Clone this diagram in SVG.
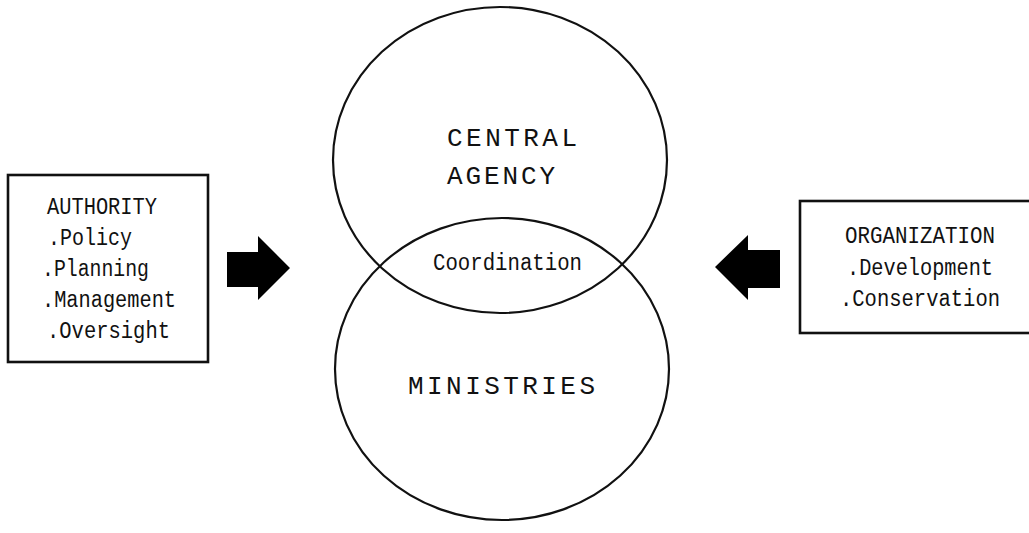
<svg xmlns="http://www.w3.org/2000/svg" width="1029" height="533" viewBox="0 0 1029 533">
  <style>
    .ring { fill: none; stroke: #111; stroke-width: 2.2; }
    .box { fill: #fff; stroke: #111; stroke-width: 2.6; }
    .big { font-family: "Liberation Mono", "DejaVu Sans Mono", monospace; font-size: 26px; fill: #111; }
    .small { font-family: "Liberation Mono", "DejaVu Sans Mono", monospace; font-size: 23px; fill: #111; }
    .arrow { fill: #000; }
  </style>
  <rect width="1029" height="533" fill="#fff"/>

  <!-- upper circle -->
  <g id="central-agency">
    <ellipse class="ring" cx="500" cy="160" rx="167" ry="153"/>
    <text class="big" x="447" y="146" textLength="130">CENTRAL</text>
    <text class="big" x="447" y="184" textLength="108">AGENCY</text>
  </g>

  <!-- lower circle -->
  <g id="ministries">
    <ellipse class="ring" cx="502" cy="369" rx="167" ry="151"/>
    <text class="big" x="408" y="394" textLength="187">MINISTRIES</text>
  </g>

  <!-- label in the overlap of the two circles -->
  <g id="coordination">
    <text class="small" x="433" y="270" textLength="149" lengthAdjust="spacingAndGlyphs">Coordination</text>
  </g>

  <g id="authority">
    <rect class="box" x="8" y="175" width="200" height="187"/>
    <text class="small" x="47" y="214" textLength="110" lengthAdjust="spacingAndGlyphs">AUTHORITY</text>
    <text class="small" x="48" y="245" textLength="84" lengthAdjust="spacingAndGlyphs">.Policy</text>
    <text class="small" x="42" y="276" textLength="107" lengthAdjust="spacingAndGlyphs">.Planning</text>
    <text class="small" x="42" y="307" textLength="134" lengthAdjust="spacingAndGlyphs">.Management</text>
    <text class="small" x="47" y="338" textLength="123" lengthAdjust="spacingAndGlyphs">.Oversight</text>
  </g>

  <g id="organization">
    <rect class="box" x="800" y="201" width="232" height="132"/>
    <text class="small" x="845" y="243" textLength="150" lengthAdjust="spacingAndGlyphs">ORGANIZATION</text>
    <text class="small" x="847" y="275" textLength="146" lengthAdjust="spacingAndGlyphs">.Development</text>
    <text class="small" x="840" y="306" textLength="160" lengthAdjust="spacingAndGlyphs">.Conservation</text>
  </g>

  <!-- block arrows pointing in toward the circles -->
  <g id="connectors">
    <polygon class="arrow" points="227,252 258,252 258,236 290,268 258,300 258,287 227,287"/>
    <polygon class="arrow" points="780,250 748,250 748,235 715,267 748,300 748,288 780,288"/>
  </g>
</svg>
